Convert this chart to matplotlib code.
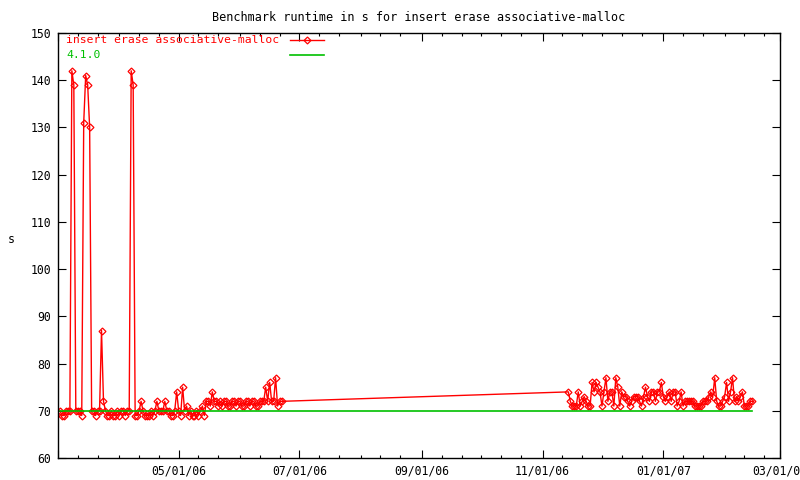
import matplotlib
matplotlib.use('Agg')
import matplotlib.pyplot as plt
import matplotlib.dates as mdates
from matplotlib.lines import Line2D
import pandas as pd

title = 'Benchmark runtime in s for insert erase associative-malloc'
series_name = 'insert erase associative-malloc'
baseline_name = '4.1.0'
baseline_value = 70

# daily runs, spring 2006
spring_start = '2006-03-02'
spring_values = [
    70, 69, 69, 70, 70, 70, 142, 139, 70, 70, 70, 69,
    131, 141, 139, 130, 70, 70, 69, 70, 70, 87, 72,
    70, 69, 69, 70, 69, 69, 70, 69, 70, 70, 69, 70, 70,
    142, 139, 69, 69, 70, 72,
    70, 69, 69, 69, 70, 69, 70, 72, 70, 70, 70, 72, 70, 70, 69, 69,
    70, 74, 70, 69, 75, 70, 71, 69, 70, 69, 69, 70, 69, 70, 71, 69,
    72, 72, 71, 74, 72, 72, 71, 72, 71, 72, 72, 71, 71, 72, 72, 71,
    72, 72, 71, 71, 72, 72, 71, 72, 72, 71, 71, 72, 72,
    72, 75, 72, 76, 72, 72, 77, 71, 72, 72,
]

# daily runs, winter 2006/07
winter_start = '2006-11-14'
winter_values = [
    74, 72, 71, 71, 71, 74, 71, 72, 73, 72, 71, 71, 76, 74, 76, 75, 74, 71, 74,
    77, 72, 74, 74, 71, 77, 75, 71, 74, 73, 73, 72, 71,
    72, 73, 73, 73, 72, 71, 73, 75, 73, 72, 74, 74, 72,
    74, 74, 76, 73, 72, 73, 74, 72, 74, 74, 71, 72, 74, 71, 72,
    72, 72, 72, 72, 71, 71, 71, 71, 72, 72,
    72, 73, 74, 73, 77, 72, 71, 71, 72, 73, 76, 72, 74, 77, 72, 73, 72, 73, 74,
    71, 71, 71, 72, 72,
]

x_start = '2006-03-01'
x_end = '2007-03-01'
y_ticks = list(range(60, 151, 10))

spring_dates = pd.date_range(spring_start, periods=len(spring_values), freq='D')
winter_dates = pd.date_range(winter_start, periods=len(winter_values), freq='D')
dates = spring_dates.append(winter_dates)
values = spring_values + winter_values

red = '#ff0000'
green = '#00c000'
mono = 'DejaVu Sans Mono'
fs = 8.3

fig = plt.figure(figsize=(8, 4.8), dpi=100)
ax = fig.add_axes([58 / 800, 1 - 458 / 480, 722 / 800, 425 / 480])

ax.plot(dates, values, color=red, lw=1, marker='D', ms=3.5, mfc='none',
        mec=red, mew=0.9)
ax.plot([dates[0], dates[-1]], [baseline_value, baseline_value], color=green, lw=1.2)

ax.set_xlim(pd.Timestamp(x_start), pd.Timestamp(x_end))
ax.set_ylim(y_ticks[0], y_ticks[-1])
ax.set_yticks(y_ticks)
ax.xaxis.set_major_locator(mdates.MonthLocator(bymonth=[1, 3, 5, 7, 9, 11]))

first_tick = mdates.date2num(pd.Timestamp(x_start))


def date_label(x, pos):
    # gnuplot leaves the tick at the left border unlabelled
    if abs(x - first_tick) < 0.5:
        return ''
    return mdates.num2date(x).strftime('%m/%d/%y')


ax.xaxis.set_major_formatter(plt.FuncFormatter(date_label))
ax.xaxis.set_minor_locator(mdates.DayLocator(bymonthday=[1, 11, 21]))

ax.tick_params(which='both', direction='in', top=True, right=True, width=0.8,
               labelsize=fs, colors='black')
ax.tick_params(which='major', length=5.5, pad=5)
ax.tick_params(which='minor', length=2.5)
for lab in ax.get_xticklabels() + ax.get_yticklabels():
    lab.set_family(mono)
for s in ax.spines.values():
    s.set_linewidth(1)

ax.set_title(title, family=mono, fontsize=8.5, pad=9)
ax.set_ylabel('s', family=mono, fontsize=fs, rotation=0, labelpad=14)

# legend drawn gnuplot style: text first, sample after
ax.text(0.011, 0.983, series_name, transform=ax.transAxes, color=red,
        family=mono, fontsize=8.2, va='center', ha='left')
ax.text(0.011, 0.949, baseline_name, transform=ax.transAxes, color=green,
        family=mono, fontsize=8.2, va='center', ha='left')
ax.add_line(Line2D([0.3215, 0.3685], [0.983, 0.983], transform=ax.transAxes,
                   color=red, lw=1))
ax.add_line(Line2D([0.345], [0.983], transform=ax.transAxes, color=red,
                   marker='D', ms=3.5, mfc='none', mec=red, mew=0.9))
ax.add_line(Line2D([0.3215, 0.3685], [0.949, 0.949], transform=ax.transAxes,
                   color=green, lw=1.2))

fig.savefig('out.png', dpi=100)
